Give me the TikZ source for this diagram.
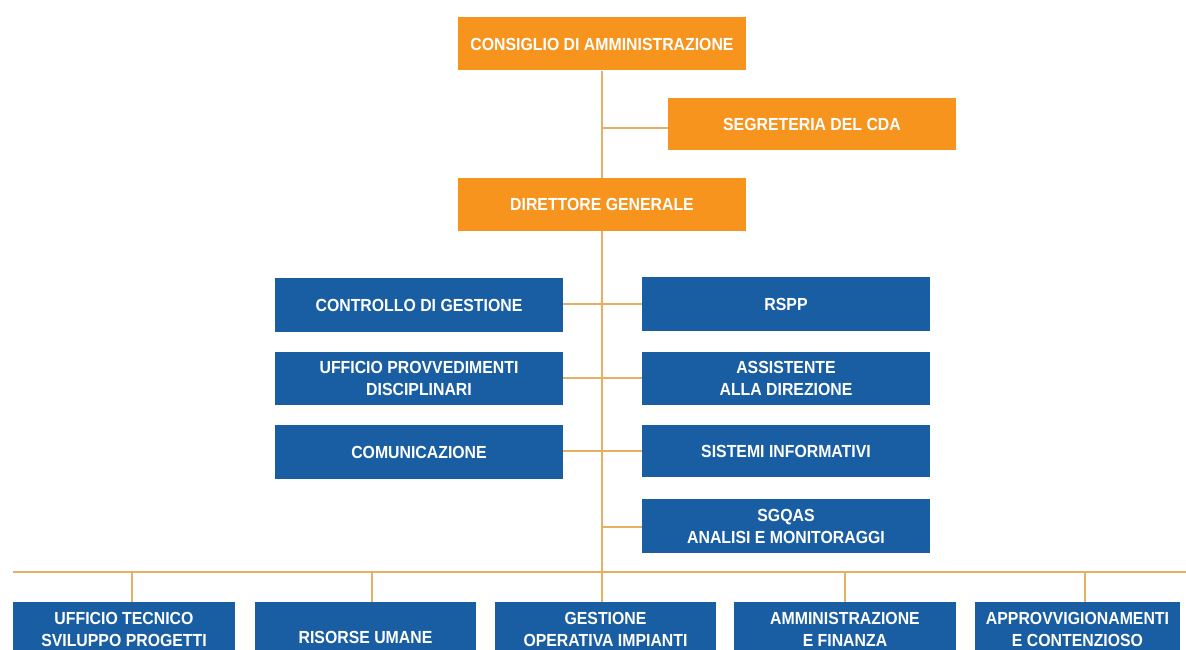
\documentclass[tikz,border=0pt]{standalone}
\usepackage{fontspec}
\newfontfamily\boxfont{Liberation Sans}[FakeStretch=0.905]
\definecolor{orng}{RGB}{247,148,30}
\definecolor{blu}{RGB}{25,94,163}
\definecolor{lne}{RGB}{230,176,98}
\begin{document}
\begin{tikzpicture}[x=1pt,y=-1pt,
  box/.style={rectangle, inner sep=0pt, minimum width=288pt, minimum height=53pt,
    text=white, font=\boxfont\bfseries\fontsize{17.5}{22}\selectfont, align=center},
  obx/.style={box, fill=orng},
  bbx/.style={box, fill=blu},
  bot/.style={bbx, minimum width=222pt, minimum height=54pt},
  conn/.style={draw=lne, line width=1.3pt},
  busline/.style={draw=lne, line width=2pt}]
\useasboundingbox (0,0) rectangle (1186,650);
\clip (0,0) rectangle (1186,650);
\fill[white] (0,0) rectangle (1186,650);
% orange boxes
\node[obx] (cda) at (602,44) {CONSIGLIO DI AMMINISTRAZIONE};
\node[obx, minimum height=52pt] (seg) at (812,124) {SEGRETERIA DEL CDA};
\node[obx] (dg) at (602,204.5) {DIRETTORE GENERALE};
% staff boxes
\node[bbx, minimum height=54pt] (ctrl) at (419,305) {CONTROLLO DI GESTIONE};
\node[bbx] (upd) at (419,378.5) {UFFICIO PROVVEDIMENTI\\DISCIPLINARI};
\node[bbx, minimum height=54pt] (com) at (419,452) {COMUNICAZIONE};
\node[bbx, minimum height=54pt] (rspp) at (786,304) {RSPP};
\node[bbx] (ass) at (786,378.5) {ASSISTENTE\\ALLA DIREZIONE};
\node[bbx, minimum height=52pt] (sis) at (786,451) {SISTEMI INFORMATIVI};
\node[bbx, minimum height=54pt] (sgq) at (786,526) {SGQAS\\ANALISI E MONITORAGGI};
% bottom boxes (they run past the lower edge)
\fill[blu] (13,640) rectangle (235,660);
\fill[blu] (255,640) rectangle (476,660);
\fill[blu] (495,640) rectangle (716,660);
\fill[blu] (734,640) rectangle (956,660);
\fill[blu] (975,640) rectangle (1180,660);
\node[bot] (b1) at (124,629) {UFFICIO TECNICO\\SVILUPPO PROGETTI};
\node[bot, minimum width=221pt] (b2) at (365.5,629) {\rule{0pt}{30pt}RISORSE UMANE};
\node[bot, minimum width=221pt] (b3) at (605.5,629) {GESTIONE\\OPERATIVA IMPIANTI};
\node[bot] (b4) at (845,629) {AMMINISTRAZIONE\\E FINANZA};
\node[bot, minimum width=205pt] (b5) at (1077.5,629) {APPROVVIGIONAMENTI\\E CONTENZIOSO};
% connectors
\coordinate (j0) at (602,128);
\coordinate (j1) at (602,304);
\coordinate (j2) at (602,378);
\coordinate (j3) at (602,451);
\coordinate (j4) at (602,527);
\coordinate (busL) at (13,572);
\coordinate (busR) at (1186,572);
\coordinate (t1) at (132,572);
\coordinate (t2) at (372,572);
\coordinate (t3) at (602,572);
\coordinate (t4) at (845,572);
\coordinate (t5) at (1085,572);
\draw[conn] (cda.south) -- (dg.north);
\draw[conn] (j0) -- (j0 -| seg.west);
\draw[conn] (dg.south) -- (t3) -- (t3 |- b3.north);
\draw[conn] (ctrl.east |- j1) -- (j1 -| rspp.west);
\draw[conn] (upd.east |- j2) -- (j2 -| ass.west);
\draw[conn] (com.east |- j3) -- (j3 -| sis.west);
\draw[conn] (j4) -- (j4 -| sgq.west);
\draw[busline] (busL) -- (busR);
\draw[conn] (t1) -- (t1 |- b1.north);
\draw[conn] (t2) -- (t2 |- b2.north);
\draw[conn] (t4) -- (t4 |- b4.north);
\draw[conn] (t5) -- (t5 |- b5.north);
\end{tikzpicture}
\end{document}
